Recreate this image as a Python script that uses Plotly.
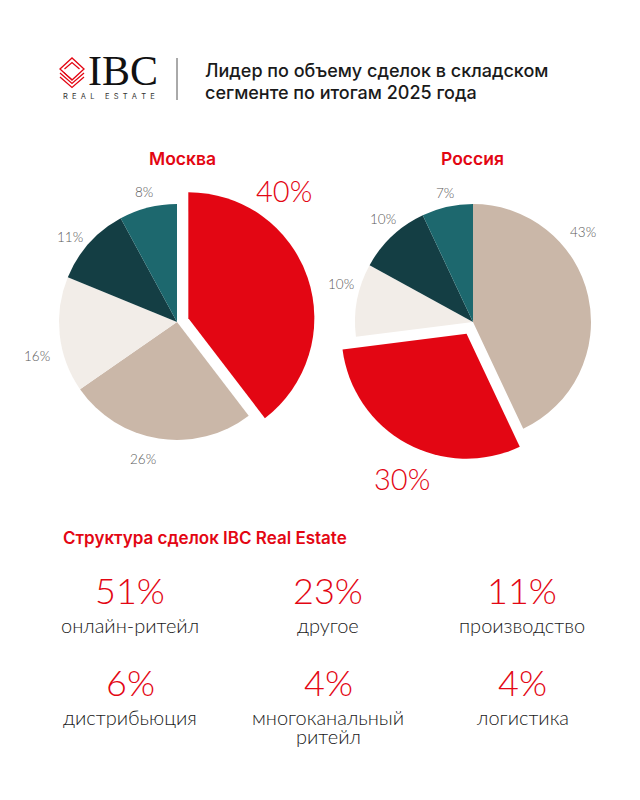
import plotly.graph_objects as go

W, H = 640, 800

# ---------------- data ----------------
moscow_labels = ["IBC Real Estate", "Компания A", "Компания B", "Компания C", "Компания D"]
moscow_values = [40, 26, 16, 11, 8]

russia_labels = ["Компания A", "IBC Real Estate", "Компания B", "Компания C", "Компания D"]
russia_values = [43, 30, 10, 10, 7]

stat_values = [51, 23, 11, 6, 4, 4]
stat_labels = ["онлайн-ритейл", "другое", "производство",
               "дистрибьюция", "многоканальный<br>ритейл", "логистика"]

# ---------------- style ----------------
RED = "#E30613"
BEIGE = "#CAB7A8"
CREAM = "#F2EDE8"
DARK = "#143E44"
TEAL = "#1D686E"
GRAY = "#5a5a5a"
TXT = "#1a1a1a"
CLEAR = "rgba(0,0,0,0)"

moscow_colors = [RED, BEIGE, CREAM, DARK, TEAL]
russia_colors = [BEIGE, RED, CREAM, DARK, TEAL]

SANS = "Inter, Roboto, 'Open Sans', sans-serif"
THIN = "Lato, Inter, sans-serif"


def px(x):
    return x / W


def py(y):
    return 1 - y / H


fig = go.Figure()


def add_pie(labels, values, colors, hl, cx, cy, r_base, r_hl, pull):
    base_cols = [CLEAR if i == hl else c for i, c in enumerate(colors)]
    fig.add_trace(go.Pie(
        labels=labels, values=values, sort=False, direction="clockwise", rotation=0,
        marker=dict(colors=base_cols, line=dict(width=0)),
        textinfo="none", hoverinfo="skip", showlegend=False,
        domain=dict(x=[px(cx - r_base), px(cx + r_base)],
                    y=[py(cy + r_base), py(cy - r_base)]),
    ))
    half = r_hl * (1 + pull)
    hl_cols = [c if i == hl else CLEAR for i, c in enumerate(colors)]
    pulls = [pull if i == hl else 0 for i in range(len(values))]
    fig.add_trace(go.Pie(
        labels=labels, values=values, sort=False, direction="clockwise", rotation=0,
        marker=dict(colors=hl_cols, line=dict(width=0)), pull=pulls,
        textinfo="none", hoverinfo="skip", showlegend=False,
        domain=dict(x=[px(cx - half), px(cx + half)],
                    y=[py(cy + half), py(cy - half)]),
    ))


add_pie(moscow_labels, moscow_values, moscow_colors, 0, 177, 322, 118, 126, 0.095)
add_pie(russia_labels, russia_values, russia_colors, 1, 473, 322, 118, 125, 0.107)

ann = []


def text(x, y, s, size, color, family=SANS, weight=400, xanchor="center"):
    ann.append(dict(x=px(x), y=py(y), xref="paper", yref="paper", text=s,
                    showarrow=False, xanchor=xanchor, yanchor="middle",
                    font=dict(size=size, color=color, family=family, weight=weight)))


# pie value labels (label positions in pixels, in slice order)
moscow_label_pos = [(284, 190), (143, 459), (37, 356), (70, 237), (144, 192)]
russia_label_pos = [(583, 232), (402, 478), (341, 284), (383, 219), (445, 193)]
for vals, pos, hl in [(moscow_values, moscow_label_pos, 0), (russia_values, russia_label_pos, 1)]:
    for i, (v, (x, y)) in enumerate(zip(vals, pos)):
        if i == hl:
            text(x, y, f"{v}%", 29, RED, THIN, 300)
        else:
            text(x, y, f"{v}%", 13.5, GRAY, THIN, 300)

# pie titles
text(182, 158, "Москва", 17.5, RED, SANS, 600)
text(472, 158, "Россия", 17.5, RED, SANS, 600)

# header
text(203, 70.5, "Лидер по объему сделок в складском", 18, TXT, SANS, 500, "left")
text(203, 92, "сегменте по итогам 2025 года", 18, TXT, SANS, 500, "left")
text(123, 71.5, "IBC", 42, "#111111", "'Liberation Serif', 'DejaVu Serif', serif", 400)
text(108.5, 97, "R&#160; E&#160; A&#160; L&#160; &#160; &#160;E&#160; S&#160; T&#160; A&#160; T&#160; E",
     7.5, "#333333", SANS, 400)

# structure section
text(61, 538, "Структура сделок IBC Real Estate", 17, RED, SANS, 600, "left")
col_x = [130, 328, 522]
row_num_y = [590, 681.5]
row_lab_y = [625, 717]
for i, (v, lab) in enumerate(zip(stat_values, stat_labels)):
    r, c = divmod(i, 3)
    text(col_x[c], row_num_y[r], f"{v}%", 36, RED, THIN, 300)
    for k, part in enumerate(lab.split("<br>")):
        text(col_x[c], row_lab_y[r] + 19 * k, part, 20, TXT, THIN, 300)

# logo icon + separator
shapes = []


def path(pts, closed=False, width=1.3, color=RED):
    d = "M " + " L ".join(f"{px(x)},{py(y)}" for x, y in pts)
    if closed:
        d += " Z"
    shapes.append(dict(type="path", path=d, xref="paper", yref="paper",
                       line=dict(color=color, width=width)))


path([(60, 69), (72, 58), (84, 69), (72, 80)], closed=True)
path([(64.5, 69), (72, 62.5), (79.5, 69)])
path([(60, 73), (72, 83.5), (84, 73)])
path([(60, 77), (72, 87.5), (84, 77)])
path([(64, 72.5), (72, 79.5)], width=1.0)
shapes.append(dict(type="line", xref="paper", yref="paper",
                   x0=px(177), x1=px(177), y0=py(58), y1=py(100),
                   line=dict(color="#555555", width=1)))

fig.update_layout(
    width=W, height=H, margin=dict(l=0, r=0, t=0, b=0),
    paper_bgcolor="white", plot_bgcolor="white",
    annotations=ann, shapes=shapes, showlegend=False,
)

fig.write_html("out.html")
